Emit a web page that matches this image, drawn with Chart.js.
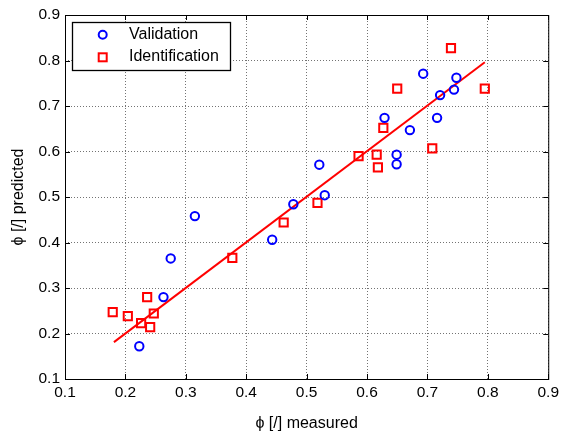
<!DOCTYPE html>
<html>
<head>
<meta charset="utf-8">
<script src="https://cdn.jsdelivr.net/npm/chart.js@4/dist/chart.umd.min.js"></script>
<style>
  body { margin: 0; background: #fff; }
  canvas { display: block; }
</style>
</head>
<body>
<canvas id="chart" width="563" height="436"></canvas>
<script>
// data
const valX = [0.223, 0.263, 0.275, 0.315, 0.443, 0.478, 0.521, 0.530, 0.629, 0.649, 0.649, 0.671, 0.693, 0.716, 0.721, 0.744, 0.748];
const valY = [0.172, 0.280, 0.365, 0.458, 0.406, 0.484, 0.571, 0.504, 0.674, 0.593, 0.572, 0.647, 0.771, 0.674, 0.724, 0.736, 0.762];

const idX = [0.179, 0.204, 0.226, 0.236, 0.241, 0.247, 0.377, 0.462, 0.518, 0.586, 0.616, 0.618, 0.627, 0.650, 0.708, 0.739, 0.795];
const idY = [0.247, 0.238, 0.223, 0.280, 0.214, 0.244, 0.366, 0.444, 0.487, 0.590, 0.593, 0.565, 0.652, 0.738, 0.607, 0.827, 0.738];

const fitX = [0.181, 0.795];
const fitY = [0.181, 0.796];

const axisTicks = [0.1, 0.2, 0.3, 0.4, 0.5, 0.6, 0.7, 0.8, 0.9];
const legendLabels = ['Validation', 'Identification'];

const toPoints = (xs, ys) => xs.map((x, i) => ({ x: x, y: ys[i] }));
const FONT = 'Liberation Sans, Arial, Helvetica, sans-serif';

// box round the plot, inward ticks on all four sides, and the legend
const matlabFrame = {
  id: 'matlabFrame',
  afterDraw(chart) {
    const { ctx, chartArea: a, scales } = chart;
    ctx.save();
    ctx.strokeStyle = '#000';
    ctx.lineWidth = 1;
    ctx.strokeRect(a.left + 0.5, a.top + 0.5, a.right - a.left, a.bottom - a.top);
    ctx.beginPath();
    const tl = 5;
    axisTicks.forEach(v => {
      const px = Math.round(scales.x.getPixelForValue(v)) + 0.5;
      ctx.moveTo(px, a.bottom); ctx.lineTo(px, a.bottom - tl);
      ctx.moveTo(px, a.top); ctx.lineTo(px, a.top + tl);
      const py = Math.round(scales.y.getPixelForValue(v)) + 0.5;
      ctx.moveTo(a.left, py); ctx.lineTo(a.left + tl, py);
      ctx.moveTo(a.right, py); ctx.lineTo(a.right - tl, py);
    });
    ctx.stroke();

    // legend
    const lx = 72.5, ly = 22.5, lw = 158, lh = 48;
    ctx.fillStyle = '#fff';
    ctx.fillRect(lx, ly, lw, lh);
    ctx.lineWidth = 1.3;
    ctx.strokeStyle = '#000';
    ctx.strokeRect(lx, ly, lw, lh);

    ctx.lineWidth = 2;
    ctx.strokeStyle = '#0000ff';
    ctx.beginPath();
    ctx.arc(102.7, 34.7, 4, 0, Math.PI * 2);
    ctx.stroke();
    ctx.strokeStyle = '#ff0000';
    ctx.strokeRect(98.7, 53.3, 8, 8);

    ctx.fillStyle = '#000';
    ctx.font = '16px ' + FONT;
    ctx.textBaseline = 'middle';
    ctx.textAlign = 'left';
    ctx.fillText(legendLabels[0], 129, 34.5);
    ctx.fillText(legendLabels[1], 129, 57);
    ctx.restore();
  }
};

const gridOpts = {
  color: 'rgba(0,0,0,0.55)',
  lineWidth: 1,
  drawTicks: false
};

new Chart(document.getElementById('chart'), {
  type: 'scatter',
  data: {
    datasets: [
      {
        label: legendLabels[0],
        data: toPoints(valX, valY),
        pointStyle: 'circle',
        pointRadius: 4.2,
        borderColor: '#0000ff',
        backgroundColor: 'rgba(0,0,0,0)',
        borderWidth: 2
      },
      {
        label: legendLabels[1],
        data: toPoints(idX, idY),
        pointStyle: 'rect',
        pointRadius: 5.8,
        borderColor: '#ff0000',
        backgroundColor: 'rgba(0,0,0,0)',
        borderWidth: 2
      },
      {
        label: 'fit',
        type: 'line',
        data: toPoints(fitX, fitY),
        showLine: true,
        pointRadius: 0,
        borderColor: '#ff0000',
        borderWidth: 2,
        fill: false
      }
    ]
  },
  options: {
    responsive: false,
    animation: false,
    layout: { padding: { left: 0, top: 15, right: 12, bottom: 0 } },
    plugins: {
      legend: { display: false },
      tooltip: { enabled: false }
    },
    scales: {
      x: {
        type: 'linear',
        min: 0.1,
        max: 0.9,
        afterBuildTicks: s => { s.ticks = axisTicks.map(v => ({ value: v })); },
        afterFit: s => { s.height = 57; },
        grid: gridOpts,
        border: { display: false, dash: [1, 2] },
        ticks: {
          padding: 4,
          color: '#000',
          font: { family: FONT, size: 15.5 },
          callback: v => v.toFixed(1)
        },
        title: {
          display: true,
          text: 'ϕ [/] measured',
          color: '#000',
          font: { family: FONT, size: 16 },
          padding: { top: 0, bottom: 3 }
        }
      },
      y: {
        type: 'linear',
        min: 0.1,
        max: 0.9,
        afterBuildTicks: s => { s.ticks = axisTicks.map(v => ({ value: v })); },
        afterFit: s => { s.width = 65; },
        grid: gridOpts,
        border: { display: false, dash: [1, 2] },
        ticks: {
          padding: 5,
          color: '#000',
          font: { family: FONT, size: 15.5 },
          callback: v => v.toFixed(1)
        },
        title: {
          display: true,
          text: 'ϕ [/] predicted',
          color: '#000',
          font: { family: FONT, size: 16 },
          padding: { top: 9, bottom: 0 }
        }
      }
    }
  },
  plugins: [matlabFrame]
});
</script>
</body>
</html>
